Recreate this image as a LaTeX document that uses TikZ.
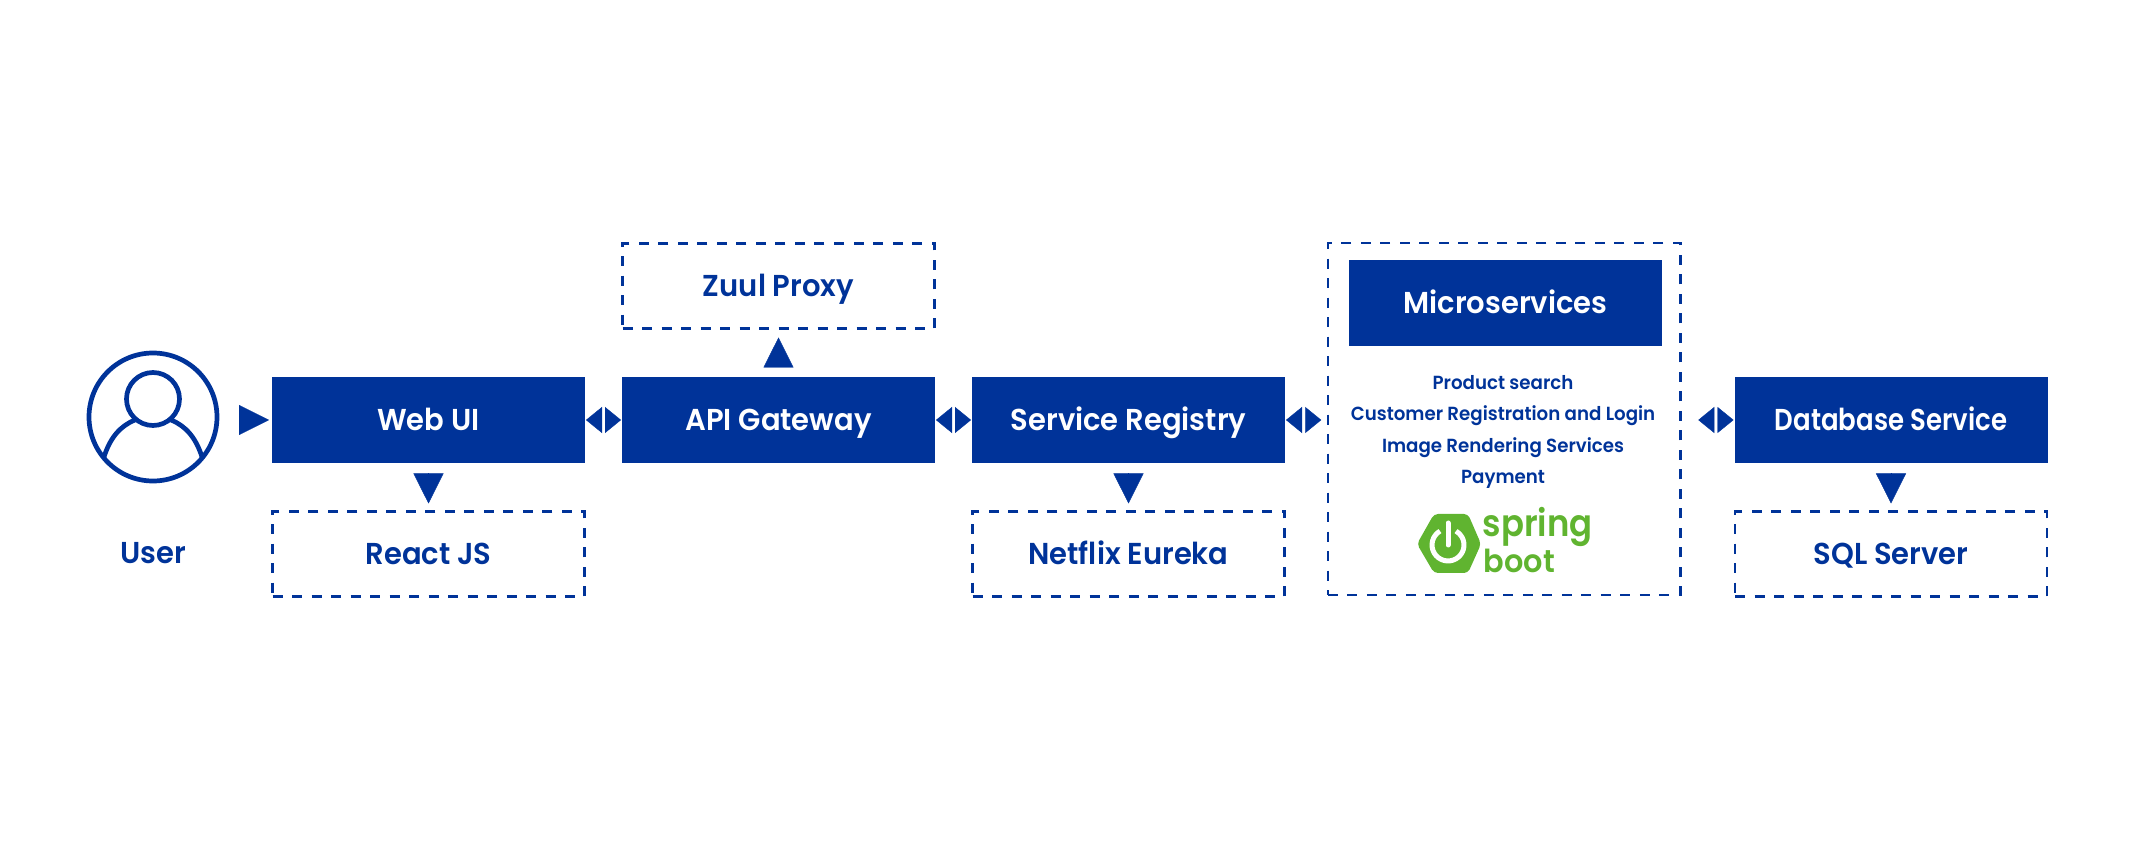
\documentclass[tikz,border=0pt]{standalone}
\usepackage{fontspec}
\setmainfont{Poppins SemiBold}[FakeStretch=0.96]
\usetikzlibrary{arrows.meta}
\definecolor{primary}{RGB}{0, 51, 153}
\definecolor{springgreen}{RGB}{96, 180, 48}

\begin{document}
\begin{tikzpicture}[
        box/.style={fill=primary, text=white, minimum width=3.13cm, minimum height=0.86cm, outer sep=0pt, font=\fontsize{8.6}{10}\selectfont, text height=0.21cm, text depth=0cm},
        dashbox/.style={draw=primary, line width=0.025cm, dash pattern=on 0.1cm off 0.095cm, text=primary, minimum width=3.12cm, minimum height=0.85cm, outer sep=0pt, font=\fontsize{8.6}{10}\selectfont, text height=0.21cm, text depth=0cm},
        arrow/.style={-{Triangle[length=0.3cm, width=0.3cm]}, primary, line width=0.1pt},
        biarrow/.style={{Triangle[length=0.16cm, width=0.26cm, color=primary]}-{Triangle[length=0.16cm, width=0.26cm, color=primary]}, white, line width=0.1pt},
        usericon/.style={draw=primary, circle, line width=0.047cm, outer sep=0pt}
    ]
        \useasboundingbox (0,0) rectangle (21.34,8.4);
        % user
        \node[usericon, minimum size=1.28cm] (user) at (1.53,4.23) {};
        \node[usericon, minimum size=0.53cm] (head) at (1.53,4.41) {};
        \draw[primary, line width=0.047cm] (1.04,3.83) .. controls (1.10,4.02) and (1.2,4.14) .. (1.35,4.20);
        \draw[primary, line width=0.047cm] (2.02,3.83) .. controls (1.96,4.02) and (1.86,4.14) .. (1.71,4.20);
        \node[text=primary, font=\fontsize{8.6}{10}\selectfont, text height=0.21cm, text depth=0cm] (userlabel) at (1.53,2.87) {User};
        % main row
        \node[box] (webui) at (4.285,4.2) {Web UI};
        \node[box] (gateway) at (7.785,4.2) {API Gateway};
        \node[box] (registry) at (11.285,4.2) {Service Registry};
        \node[box] (database) at (18.91,4.2) {\addfontfeature{FakeStretch=0.86}Database Service};
        % dashed boxes
        \node[dashbox] (react) at (4.285,2.86) {React JS};
        \node[dashbox] (zuul) at (7.785,5.54) {Zuul Proxy};
        \node[dashbox] (eureka) at (11.285,2.86) {Netflix Eureka};
        \node[dashbox] (sqlserver) at (18.91,2.86) {SQL Server};
        % microservices
        \node[dashbox, minimum width=3.525cm, minimum height=3.52cm] (microbox) at (15.04,4.21) {};
        \node[box] (micro) at (15.055,5.37) {Microservices};
        \node[text=primary, align=center, font=\fontsize{5.4}{8.96}\selectfont] (services) at (15.03,4.08) {Product search\\Customer Registration and Login\\Image Rendering Services\\Payment};
        % logo
        \fill[springgreen, rounded corners=0.04cm] (14.17,2.96) -- (14.34,3.26) -- (14.68,3.26) -- (14.81,2.96) -- (14.68,2.67) -- (14.34,2.67) -- cycle;
        \draw[white, line width=0.05cm, line cap=round] (14.48,3.17) -- (14.48,2.95);
        \draw[white, line width=0.05cm] (14.40,3.089) arc (120:420:0.16);
        \node[text=springgreen, font=\fontsize{10.6}{12}\selectfont\addfontfeature{FakeStretch=0.91}, anchor=base west, inner sep=0pt] (spring) at (14.82,3.03) {spring};
        \node[text=springgreen, font=\fontsize{9}{10}\selectfont, anchor=base west, inner sep=0pt] (boot) at (14.83,2.68) {boot};
        % arrows
        \draw[arrow, shorten <=0.22cm, shorten >=0.03cm] (user.east |- webui.west) -- (webui.west);
        \draw[biarrow, shorten <=0.01cm, shorten >=0.01cm] (webui) -- (gateway);
        \draw[biarrow, shorten <=0.01cm, shorten >=0.01cm] (gateway) -- (registry);
        \draw[biarrow, shorten <=0.01cm, shorten >=0.065cm] (registry.east) -- (registry.east -| microbox.west);
        \draw[biarrow, shorten <=0.18cm, shorten >=0.01cm] (microbox.east |- database.west) -- (database.west);
        \draw[arrow, shorten <=0.105cm, shorten >=0.08cm] (webui) -- (react);
        \draw[arrow, shorten <=0.105cm, shorten >=0.08cm] (registry) -- (eureka);
        \draw[arrow, shorten <=0.105cm, shorten >=0.08cm] (database) -- (sqlserver);
        \draw[arrow, shorten <=0.105cm, shorten >=0.09cm] (gateway) -- (zuul);
    \end{tikzpicture}
\end{document}
